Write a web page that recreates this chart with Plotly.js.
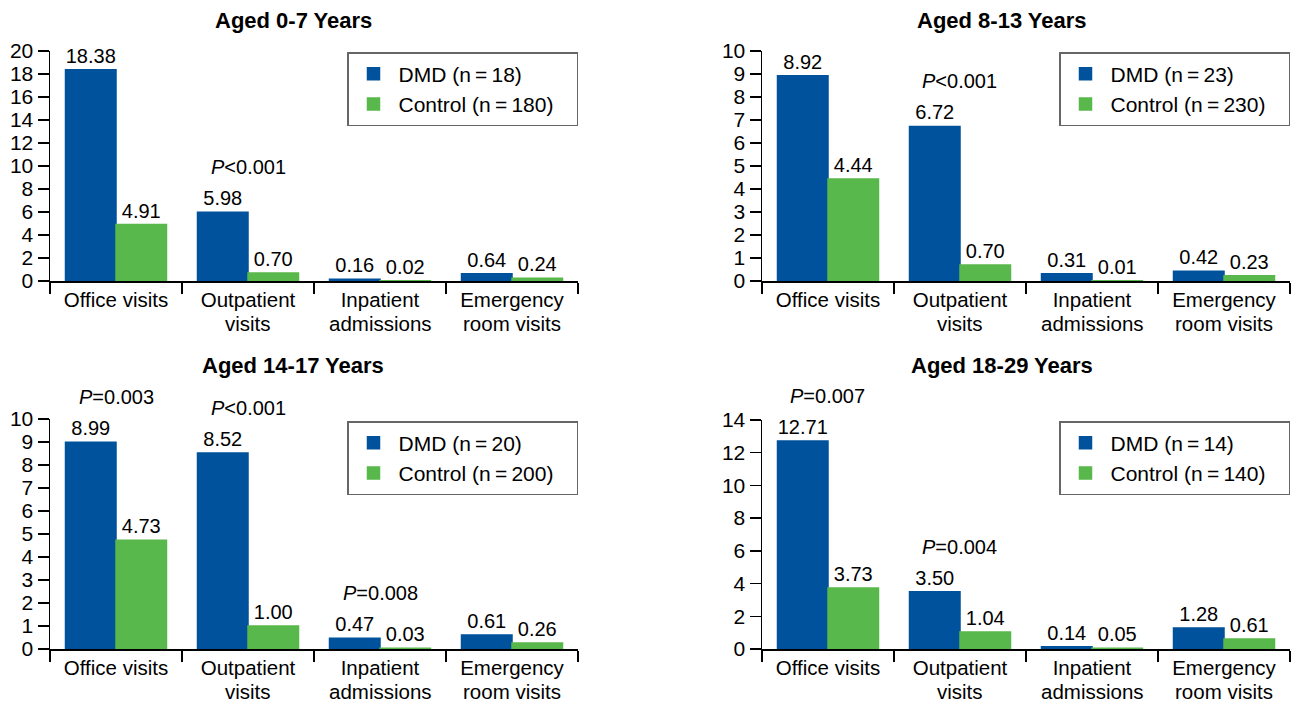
<!DOCTYPE html>
<html>
<head>
<meta charset="utf-8">
<script src="https://cdn.plot.ly/plotly-3.0.1.min.js"></script>
<style>html,body{margin:0;padding:0;background:#fff;}#chart{width:1296px;height:703px;}</style>
</head>
<body>
<div id="chart"></div>
<script>
// ---- data ----
const categories = ["Office visits", "Outpatient", "Inpatient", "Emergency"];
const categoriesLine2 = ["", "visits", "admissions", "room visits"];
const panelTitles = ["Aged 0-7 Years", "Aged 8-13 Years", "Aged 14-17 Years", "Aged 18-29 Years"];
const dmdN = [18, 23, 20, 14];
const controlN = [180, 230, 200, 140];
const dmd_0_7 = [18.38, 5.98, 0.16, 0.64];
const control_0_7 = [4.91, 0.70, 0.02, 0.24];
const dmd_8_13 = [8.92, 6.72, 0.31, 0.42];
const control_8_13 = [4.44, 0.70, 0.01, 0.23];
const dmd_14_17 = [8.99, 8.52, 0.47, 0.61];
const control_14_17 = [4.73, 1.00, 0.03, 0.26];
const dmd_18_29 = [12.71, 3.50, 0.14, 1.28];
const control_18_29 = [3.73, 1.04, 0.05, 0.61];
const p_0_7 = [null, "<0.001", null, null];
const p_8_13 = [null, "<0.001", null, null];
const p_14_17 = ["=0.003", "<0.001", "=0.008", null];
const p_18_29 = ["=0.007", "=0.004", null, null];
const yMax = [20, 10, 10, 14];
const yStep = [2, 1, 1, 2];

// ---- style ----
const BLUE = "#00529C";
const GREEN = "#58B84B";
const FONT = "Liberation Sans, Arial, Helvetica, sans-serif";
const CAT_FONT = 20.5;

const panels = [
  {dmd: dmd_0_7, ctl: control_0_7, p: p_0_7},
  {dmd: dmd_8_13, ctl: control_8_13, p: p_8_13},
  {dmd: dmd_14_17, ctl: control_14_17, p: p_14_17},
  {dmd: dmd_18_29, ctl: control_18_29, p: p_18_29}
];

// layout geometry (pixels -> paper)
const W = 1296, H = 703;
const xDom = [[50, 578], [762, 1290], [50, 578], [762, 1290]];
const yDom = [[51, 281], [51, 281], [419, 649], [420, 649]];
const titlePos = [[293, 20], [1002, 20], [293, 365], [1002, 365]];
const legendTop = [52, 52, 421, 421];

const traces = [];
const layout = {
  width: W, height: H,
  margin: {l: 0, r: 0, t: 0, b: 0},
  paper_bgcolor: "#fff", plot_bgcolor: "#fff",
  barmode: "group", bargap: 0.235, bargroupgap: 0,
  font: {family: FONT, color: "#000", size: 20},
  annotations: [],
  showlegend: true
};

const thin = "\u2009";
const padRight = "\u00a0\u00a0\u00a0"; // right padding inside the legend box
panels.forEach((pn, i) => {
  const k = i + 1;
  const xa = "x" + (k === 1 ? "" : k);
  const ya = "y" + (k === 1 ? "" : k);
  const lg = "legend" + (k === 1 ? "" : k);
  traces.push({
    type: "bar", x: categories, y: pn.dmd, name: "DMD (n" + thin + "=" + thin + dmdN[i] + ")" + padRight,
    xaxis: xa, yaxis: ya, legend: lg,
    marker: {color: BLUE, line: {color: BLUE, width: 1.5}},
    text: pn.dmd.map(v => v.toFixed(2)), textposition: "outside", constraintext: "none",
    textfont: {size: 20, color: "#000"}, cliponaxis: false, hoverinfo: "skip"
  });
  traces.push({
    type: "bar", x: categories, y: pn.ctl, name: "Control (n" + thin + "=" + thin + controlN[i] + ")" + padRight,
    xaxis: xa, yaxis: ya, legend: lg,
    marker: {color: GREEN, line: {color: GREEN, width: 1.5}},
    text: pn.ctl.map(v => v.toFixed(2)), textposition: "outside", constraintext: "none",
    textfont: {size: 20, color: "#000"}, cliponaxis: false, hoverinfo: "skip"
  });

  const xkey = "xaxis" + (k === 1 ? "" : k);
  const ykey = "yaxis" + (k === 1 ? "" : k);
  layout[xkey] = {
    domain: [xDom[i][0] / W, xDom[i][1] / W], anchor: ya,
    type: "category", range: [-0.5, 3.5],
    tickson: "boundaries", ticks: "outside", ticklen: 11, tickwidth: 1.5, tickcolor: "#000",
    showline: true, linecolor: "#000", linewidth: 1.5, showgrid: false, zeroline: false,
    tickfont: {size: CAT_FONT, color: "#000"}, fixedrange: true
  };
  layout[ykey] = {
    domain: [1 - yDom[i][1] / H, 1 - yDom[i][0] / H], anchor: xa,
    range: [0, yMax[i]], dtick: yStep[i], tick0: 0,
    ticks: "outside", ticklen: 11, tickwidth: 1.5, tickcolor: "#000",
    showline: true, linecolor: "#000", linewidth: 1.5, showgrid: false, zeroline: false,
    tickfont: {size: 21, color: "#000"}, fixedrange: true
  };
  layout[lg] = {
    x: xDom[i][1] / W, xanchor: "right",
    y: 1 - legendTop[i] / H, yanchor: "top",
    bgcolor: "#fff", bordercolor: "#666", borderwidth: 1.5,
    font: {size: 21, color: "#000"}, traceorder: "normal",
    itemwidth: 40
  };
  layout.annotations.push({
    xref: "paper", yref: "paper", x: titlePos[i][0] / W, y: 1 - titlePos[i][1] / H,
    xanchor: "center", yanchor: "middle", showarrow: false,
    text: "<b>" + panelTitles[i] + "</b>", font: {size: 22, color: "#000"}
  });
  // second line of the category labels (tighter leading than Plotly's <br>)
  categoriesLine2.forEach((t, j) => {
    if (!t) return;
    layout.annotations.push({
      xref: xa, yref: ya + " domain", x: categories[j], y: 0,
      xanchor: "center", yanchor: "middle", yshift: -42.5, showarrow: false,
      borderpad: 0,
      text: t, font: {size: CAT_FONT, color: "#000"}
    });
  });
  pn.p.forEach((pv, j) => {
    if (!pv) return;
    layout.annotations.push({
      xref: xa, yref: ya, x: categories[j], y: pn.dmd[j],
      xanchor: "center", yanchor: "middle", yshift: 45, showarrow: false,
      text: "<i>P</i>" + pv.replace("<", "&lt;"), font: {size: 20, color: "#000"}
    });
  });
});

Plotly.newPlot("chart", traces, layout, {displayModeBar: false, staticPlot: true});
</script>
</body>
</html>
